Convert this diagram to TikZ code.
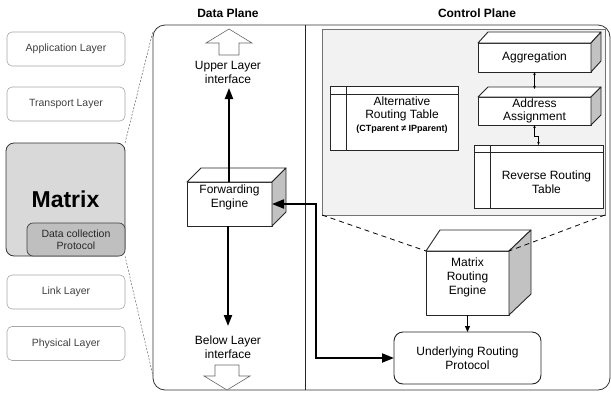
\documentclass[tikz,border=0pt]{standalone}
\usepackage{fontspec}
\setmainfont{Liberation Sans}
\usetikzlibrary{arrows.meta}
\begin{document}
\begin{tikzpicture}[x=1pt,y=-1pt,
  every node/.style={outer sep=0pt, inner sep=0pt},
  layerbox/.style={draw=black!35, line width=0.6pt, rounded corners=5pt, fill=white,
    minimum width=118pt, minimum height=34pt, text=black!75, align=center,
    font=\fontsize{10.5}{12}\selectfont},
  face/.style={draw=black!85, line width=0.9pt, fill=white, line join=round},
  side/.style={draw=black!85, line width=0.9pt, fill=black!24, line join=round},
  lbl/.style={align=center, font=\fontsize{12}{14}\selectfont},
  tbl/.style={draw=black!85, line width=0.9pt, fill=white},
  tblline/.style={draw=black!85, line width=0.9pt},
  title/.style={font=\bfseries\fontsize{12}{14}\selectfont},
  bigarrow/.style={line width=2pt, arrows={-Triangle[length=11pt,width=8pt]}},
  bigboth/.style={line width=2pt, arrows={Triangle[length=12pt,width=9pt]-Triangle[length=12pt,width=9pt]}},
  smallboth/.style={line width=0.5pt, arrows={Stealth[length=3pt,width=2.5pt]-Stealth[length=3pt,width=2.5pt]}},
  smallarrow/.style={line width=0.8pt, arrows={-Triangle[length=6pt,width=5pt]}},
  hollow/.style={draw=black!60, line width=0.6pt, fill=white, line join=miter},
  zoomline/.style={draw=black!60, line width=0.5pt, dash pattern=on 2pt off 1.5pt},
  panelzoom/.style={draw=black, line width=0.8pt, dash pattern=on 5pt off 4pt},
]
\useasboundingbox (0,0) rectangle (611,392);

% ---------- left protocol stack ----------
\node[layerbox] (app) at (66,49) {Application Layer};
\node[layerbox] (trans) at (66,104) {Transport Layer};
\node[draw=black!80, line width=0.8pt, rounded corners=8pt, fill=black!15,
      minimum width=119pt, minimum height=113pt,
      font=\bfseries\fontsize{23}{26}\selectfont] (matrix) at (65.5,199.5) {Matrix};
\node[draw=black!75, line width=0.7pt, rounded corners=6pt, fill=black!25,
      minimum width=98pt, minimum height=33pt, align=center,
      font=\fontsize{10.5}{11.5}\selectfont, text=black!85] (dcp) at (76,239.5) {Data collection\\Protocol};
\node[layerbox] (link) at (66,292) {Link Layer};
\node[layerbox] (phys) at (66,343.5) {Physical Layer};

% ---------- outer container ----------
\node[draw=black!80, line width=0.8pt, rounded corners=12pt,
      minimum width=457pt, minimum height=365pt] (cont) at (381.5,207.5) {};
\coordinate (zt) at (153,31);
\coordinate (zb) at (153,376);
\draw[zoomline] (matrix.north east) -- (zt);
\draw[zoomline] (matrix.south east) -- (zb);
\coordinate (dv) at (305.5,0);
\draw[draw=black!85, line width=0.9pt] (cont.north -| dv) -- (cont.south -| dv);

\node[title] (dptitle) at (228,13) {Data Plane};
\node[title] (cptitle) at (477,13) {Control Plane};

% ---------- data plane ----------
\draw[hollow] (219,55) -- (219,43) -- (206,43) -- (229,29) -- (252,43) -- (239,43) -- (239,55) -- cycle;
\draw[hollow] (215,365) -- (239,365) -- (239,376) -- (250,376) -- (227,390) -- (204,376) -- (215,376) -- cycle;
\node[lbl] (uli) at (228,72) {Upper Layer\\interface};
\node[lbl] (bli) at (228,347) {Below Layer\\interface};

\node[face, minimum width=85pt, minimum height=44pt] (fwd) at (229.5,204) {};
\draw[face] (fwd.north west) -- ++(14,-14) -- ++(85,0) -- (fwd.north east) -- cycle;
\draw[side] (fwd.north east) -- ++(14,-14) -- ++(0,44) -- (fwd.south east) -- cycle;
\node[lbl] (fwdtxt) at (229.5,197.5) {Forwarding\\Engine};

\coordinate (upper) at (229,88);
\coordinate (below) at (228,326);
\draw[bigarrow] (fwd.north -| upper) -- (upper);
\draw[bigarrow] (fwd.south -| below) -- (below);

% ---------- control plane ----------
\node[draw=black!55, line width=0.6pt, fill=black!5,
      minimum width=283pt, minimum height=186pt] (panel) at (463.5,122) {};

% Aggregation cube
\node[face, minimum width=113pt, minimum height=29pt, lbl] (agg) at (534.5,57.5) {Aggregation};
\draw[face] (agg.north west) -- ++(10,-11) -- ++(113,0) -- (agg.north east) -- cycle;
\draw[side] (agg.north east) -- ++(10,-11) -- ++(0,29) -- (agg.south east) -- cycle;

% Address Assignment cube
\node[face, minimum width=113pt, minimum height=28pt, lbl, font=\fontsize{12}{13}\selectfont] (addr) at (534.5,111) {Address\\Assignment};
\draw[face] (addr.north west) -- ++(10,-10) -- ++(113,0) -- (addr.north east) -- cycle;
\draw[side] (addr.north east) -- ++(10,-10) -- ++(0,28) -- (addr.south east) -- cycle;

% Alternative Routing Table
\node[tbl, minimum width=128pt, minimum height=64pt] (alt) at (394,118) {};
\draw[tblline] ([yshift=-8pt]alt.north west) -- ([yshift=-8pt]alt.north east);
\draw[tblline] ([xshift=16pt]alt.north west) -- ([xshift=16pt]alt.south west);
\node[align=center, font=\fontsize{12}{13.5}\selectfont] (alttxt) at (402,115)
  {Alternative\\Routing Table\\[-1pt]{\bfseries\fontsize{9}{11}\selectfont(CTparent ≠ IPparent)}};

% Reverse Routing Table
\node[tbl, minimum width=129pt, minimum height=63pt] (rev) at (538.5,176.5) {};
\draw[tblline] ([yshift=-7pt]rev.north west) -- ([yshift=-7pt]rev.north east);
\draw[tblline] ([xshift=16pt]rev.north west) -- ([xshift=16pt]rev.south west);
\node[lbl] (revtxt) at (546.5,182) {Reverse Routing\\Table};

% links between control plane boxes
\coordinate (addrtop) at (534.5,89);
\draw[smallboth] (agg.south) -- (addrtop);
\coordinate (jog) at (534.5,136);
\draw[smallboth] (addr.south) -- (jog) -| (rev.north);

% Matrix Routing Engine cube
\node[face, minimum width=83pt, minimum height=64pt] (mre) at (467.5,283) {};
\draw[face] (mre.north west) -- ++(14,-21) -- ++(91,0) -- (mre.north east) -- cycle;
\draw[side] (mre.north east) -- ++(22,-21) -- ++(0,64) -- (mre.south east) -- cycle;
\node[lbl] (mretxt) at (467.5,277) {Matrix\\Routing\\Engine};

\draw[panelzoom] (panel.south west) -- (mre.north west);
\draw[panelzoom] (panel.south east) -- (mre.north east);

% Underlying Routing Protocol
\node[draw=black!85, line width=0.9pt, rounded corners=9pt, fill=white,
      minimum width=147pt, minimum height=52pt, lbl] (urp) at (467.5,358) {Underlying Routing\\Protocol};

\draw[smallarrow] (mre.south) -- (urp.north);

\coordinate (cn) at (316,300);
\draw[bigboth] (urp.west) -| (cn) |- (fwd.east);
\end{tikzpicture}
\end{document}
